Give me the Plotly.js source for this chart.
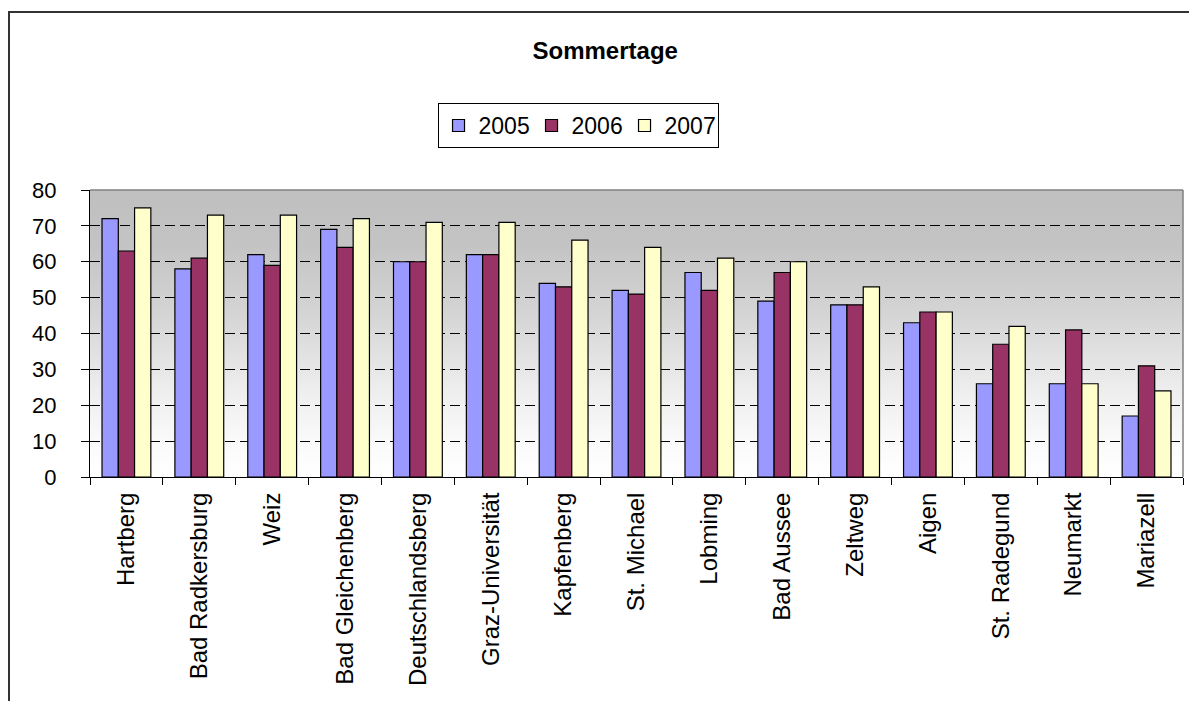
<!DOCTYPE html>
<html>
<head>
<meta charset="utf-8">
<script src="https://cdn.plot.ly/plotly-3.0.1.min.js"></script>
<style>
  html, body { margin: 0; padding: 0; background: #fff; overflow: hidden; }
  #wrap { position: relative; width: 1189px; height: 701px; }
  #chart { position: absolute; left: 0; top: 0; width: 1189px; height: 701px; }
  #frame { position: absolute; left: 8px; top: 11px; width: 1300px; height: 800px;
           border: 2px solid #333; pointer-events: none; box-sizing: border-box; }
</style>
</head>
<body>
<div id="wrap">
  <div id="chart"></div>
  <div id="frame"></div>
</div>
<script>
const categories = ["Hartberg", "Bad Radkersburg", "Weiz", "Bad Gleichenberg", "Deutschlandsberg",
  "Graz-Universität", "Kapfenberg", "St. Michael", "Lobming", "Bad Aussee", "Zeltweg", "Aigen",
  "St. Radegund", "Neumarkt", "Mariazell"];
const seriesNames = ["2005", "2006", "2007"];
const values2005 = [72, 58, 62, 69, 60, 62, 54, 52, 57, 49, 48, 43, 26, 26, 17];
const values2006 = [63, 61, 59, 64, 60, 62, 53, 51, 52, 57, 48, 46, 37, 41, 31];
const values2007 = [75, 73, 73, 72, 71, 71, 66, 64, 61, 60, 53, 46, 42, 26, 24];
const seriesColors = ["#9999FF", "#993366", "#FFFFCC"];
const yTicks = [0, 10, 20, 30, 40, 50, 60, 70, 80];
const chartTitle = "Sommertage";

const font = "Arial, 'Liberation Sans', sans-serif";
const allValues = [values2005, values2006, values2007];
const traces = allValues.map((vals, i) => ({
  type: "bar",
  name: seriesNames[i],
  x: categories,
  y: vals,
  marker: { color: seriesColors[i], line: { color: "#000000", width: 1.2 } },
  hoverinfo: "x+y+name"
}));

const gradSvg = '<svg xmlns="http://www.w3.org/2000/svg" width="100" height="100" preserveAspectRatio="none">' +
  '<defs><linearGradient id="g" x1="0" y1="0" x2="0" y2="1">' +
  '<stop offset="0" stop-color="#BFBFBF"/><stop offset="0.2" stop-color="#C4C4C4"/>' +
  '<stop offset="0.45" stop-color="#D6D6D6"/><stop offset="0.7" stop-color="#EEEEEE"/>' +
  '<stop offset="0.88" stop-color="#FAFAFA"/><stop offset="1" stop-color="#FFFFFF"/>' +
  '</linearGradient></defs><rect width="100" height="100" fill="url(#g)"/></svg>';
const gradUri = "data:image/svg+xml;charset=utf-8," + encodeURIComponent(gradSvg);

const layout = {
  width: 1189, height: 701,
  margin: { l: 90, r: 6, t: 190, b: 224, pad: 0 },
  paper_bgcolor: "#ffffff",
  plot_bgcolor: "rgba(0,0,0,0)",
  font: { family: font, color: "#000000", size: 22 },
  title: {
    text: "<b>" + chartTitle + "</b>",
    font: { family: font, size: 24, color: "#000000" },
    x: 0.509, xref: "container", xanchor: "center",
    y: 1 - 51 / 701, yref: "container", yanchor: "middle"
  },
  barmode: "group",
  bargap: 0.33,
  bargroupgap: 0,
  showlegend: true,
  legend: {
    orientation: "h",
    x: 0.4465, xanchor: "center", xref: "paper",
    y: 1.303, yanchor: "top", yref: "paper",
    bgcolor: "#ffffff", bordercolor: "#000000", borderwidth: 1,
    font: { family: font, size: 23, color: "#000000" },
    itemwidth: 30, tracegroupgap: 0, traceorder: "normal",
    entrywidth: 48, entrywidthmode: "pixels"
  },
  xaxis: {
    type: "category",
    tickangle: -90,
    ticks: "outside", ticklen: 7, tickcolor: "#000000", tickwidth: 1,
    tickson: "boundaries",
    showline: true, linecolor: "#000000", linewidth: 1,
    showgrid: false, zeroline: false,
    tickfont: { family: font, size: 24, color: "#000000" },
    ticklabelstandoff: 5,
    fixedrange: true
  },
  yaxis: {
    range: [0, 80],
    tickvals: yTicks,
    ticktext: yTicks.map(String),
    ticks: "outside", ticklen: 8, tickcolor: "#000000", tickwidth: 1,
    showline: true, linecolor: "#000000", linewidth: 1,
    showgrid: true, gridcolor: "#000000", gridwidth: 1, griddash: "10px,5px",
    zeroline: false,
    tickfont: { family: font, size: 22, color: "#000000" },
    ticklabelstandoff: 20,
    fixedrange: true
  },
  images: [{
    source: gradUri, xref: "paper", yref: "paper", x: 0, y: 1, sizex: 1, sizey: 1,
    xanchor: "left", yanchor: "top", sizing: "stretch", layer: "below"
  }],
  shapes: [
    { type: "line", xref: "paper", yref: "paper", x0: 0, x1: 1, y0: 1, y1: 1,
      line: { color: "#808080", width: 1.5 }, layer: "above" },
    { type: "line", xref: "paper", yref: "paper", x0: 1, x1: 1, y0: 0, y1: 1,
      line: { color: "#808080", width: 1.5 }, layer: "above" }
  ]
};

Plotly.newPlot("chart", traces, layout, { displayModeBar: false, staticPlot: true });
</script>
</body>
</html>
